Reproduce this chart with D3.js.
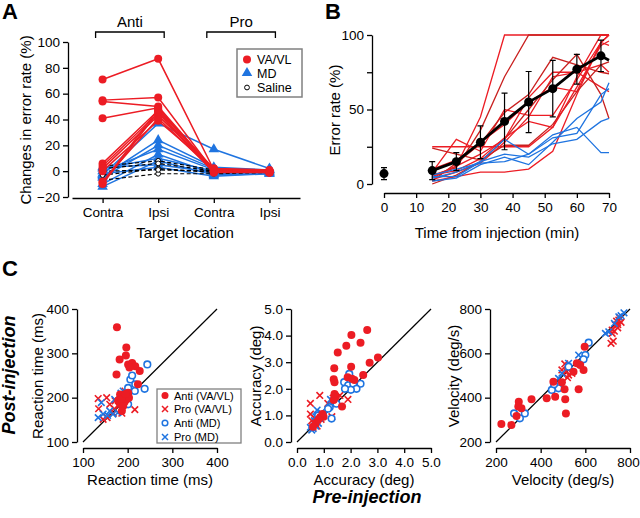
<!DOCTYPE html>
<html lang="en">
<head>
<meta charset="UTF-8">
<script src="https://d3js.org/d3.v7.min.js"></script>
<title>Error rate and saccade parameters</title>
<style>
  body { margin: 0; background: #fff; }
  svg { font-family: "Liberation Sans", Arial, sans-serif; }
  .axis path, .axis line { stroke: #000; stroke-width: 1.3px; }
  .axis text { font-size: 13.5px; fill: #000; font-family: "Liberation Sans", Arial, sans-serif; }
  .title { font-size: 15px; }
</style>
</head>
<body>
<svg id="fig" width="640" height="518"></svg>
<script>
// ---------- Panel A: change in error rate ----------
const targets = ["antiContra", "antiIpsi", "proContra", "proIpsi"];
const targetLabels = ["Contra", "Ipsi", "Contra", "Ipsi"];
const vavlChange = [
  [71, 87, 1, 0], [55, 57, 0, -1], [54, 50, 1, 0], [41, 49, 0, 0],
  [6, 47, 2, 0], [4, 45, -1, -1], [2, 43, 1, 0], [-8, 41, 0, -1],
  [-10, 46, -1, 0], [0, 39, 2, 1], [-9, 48, 0, -1]
];
const mdChange = [
  [-3, 37, 17, 2], [-4, 24, 3, 1], [-5, 20, 2, 0], [0, 17, 1, -1],
  [-10, 13, -2, -1], [2, 10, 0, 0], [-12, 8, -3, -2], [3, 5, -1, 1], [-2, 3, -4, -2]
];
const salineChange = [
  [4, 8, 1, 0], [2, 6, 0, -1], [-3, 2, -1, 0], [-7, -2, -2, -1], [0, 1, 0, 0]
];

// ---------- Panel B: error rate over time ----------
const timePoints = [15, 22.5, 30, 37.5, 45, 52.5, 60, 67.5, 70];
const vavlTime = [
  [4, 12, 45, 100, 100, 100, 100, 100, 100],
  [6, 11, 36, 72, 100, 100, 100, 100, 100],
  [25, 25, 25, 25, 25, 38, 72, 100, 100],
  [8, 30, 22, 50, 46, 46, 70, 95, 93],
  [2, 14, 27, 48, 60, 85, 80, 75, 74],
  [5, 12, 20, 30, 58, 75, 75, 80, 75],
  [3, 8, 14, 28, 45, 72, 75, 65, 62],
  [0, 6, 15, 30, 50, 70, 87, 60, 44],
  [10, 16, 28, 40, 55, 65, 62, 95, 100],
  [2, 5, 8, 8, 10, 22, 60, 95, 100],
  [24, 20, 16, 26, 26, 40, 62, 80, 82],
  [6, 9, 17, 31, 42, 38, 65, 93, 96]
];
const mdTime = [
  [5, 5, 15, 30, 20, 33, 38, 21, 21],
  [4, 8, 15, 20, 18, 27, 30, 42, 44],
  [2, 4, 13, 18, 13, 28, 44, 55, 68],
  [6, 10, 14, 15, 20, 31, 34, 60, 64]
];
const meanTime = [9, 15, 28, 42, 55, 64, 77, 86, 83];
const semTime = [6, 6, 11, 19, 20.5, 19, 10, 10.5, null];
const baseTime = 0, baseMean = 7, baseSem = 4;

// ---------- Panel C: pre vs post injection ----------
const rtAntiVA = [[176,359],[197,313],[182,286],[196,295],[201,275],[210,278],[217,271],[227,260],[204,268],[175,252],[223,230],[183,207],[190,200],[193,203],[197,196],[179,194],[193,190],[183,187],[190,181],[201,211],[203,200],[187,170],[186,197],[195,208]];
const rtProVA = [[134,198],[153,200],[135,175],[154,155],[168,165],[179,181],[216,173],[145,151],[187,165],[172,193],[190,205],[194,215],[160,185],[170,175]];
const rtAntiMD = [[244,275],[206,241],[217,230],[238,220],[216,215],[201,222],[201,185],[210,250],[195,205],[188,195]];
const rtProMD = [[134,155],[145,163],[160,170],[141,189],[167,163],[178,166],[171,196],[190,215],[185,210],[155,160]];

const accAntiVA = [[2.62,4.21],[2.03,4.02],[1.84,3.62],[2.37,3.73],[1.52,3.36],[3.02,3.18],[2.71,2.98],[2.02,2.83],[1.39,2.77],[2.47,2.52],[1.37,2.36],[1.40,2.25],[1.89,2.43],[2.14,2.33],[2.05,2.38],[1.45,1.70],[1.37,1.58],[1.68,1.33],[1.40,1.80],[0.99,0.95],[0.86,0.93],[0.95,1.05],[0.70,0.72],[0.60,0.57],[0.80,0.85]];
const accProVA = [[0.5,1.45],[0.85,1.75],[0.5,1.05],[1.3,0.95],[1.9,1.6],[1.6,1.75],[1.15,1.45],[0.6,0.55],[0.7,0.7],[0.55,0.8],[0.75,0.6],[0.65,0.9],[0.9,0.85],[0.8,1.0],[1.35,1.65]];
const accAntiMD = [[1.95,2.56],[1.76,2.25],[1.91,2.13],[2.10,2.19],[2.37,2.19],[2.22,2.0],[2.01,1.96],[1.79,2.0],[1.35,1.56],[1.22,1.31],[1.47,1.44],[1.16,1.25],[1.29,0.88],[0.79,1.0]];
const accProMD = [[0.6,0.5],[0.7,0.6],[0.55,0.45],[0.8,0.7],[0.9,1.1],[0.75,1.2],[0.65,0.8],[0.5,0.55],[1.0,1.0],[0.85,0.9],[1.25,1.6],[0.7,0.95]];

const velAntiVA = [[224,281],[269,277],[302,382],[314,352],[292,317],[359,393],[427,397],[465,404],[457,472],[510,393],[507,438],[513,329],[570,438],[562,555],[592,525],[597,630],[547,517],[577,547],[300,360],[495,470]];
const velProVA = [[720,690],[735,728],[750,750],[725,655],[715,645],[740,745],[760,740],[745,715],[730,700],[720,705],[755,760],[508,552],[525,502],[540,510],[495,525],[520,490],[515,520],[745,730]];
const velAntiMD = [[615,648],[600,592],[592,573],[480,442],[450,435],[329,329],[307,307],[281,329],[525,540],[460,460]];
const velProMD = [[773,783],[750,765],[705,697],[690,690],[570,592],[495,510],[480,487],[525,555],[760,770],[730,735]];

const red = "#ec1c24", darkRed = "#c9201f", blue = "#1f74e0";

const svg = d3.select("#fig");

// panel letters
svg.append("text").attr("x", 2).attr("y", 19).attr("font-size", 22).attr("font-weight", "bold").text("A");
svg.append("text").attr("x", 325).attr("y", 19).attr("font-size", 22).attr("font-weight", "bold").text("B");
svg.append("text").attr("x", 2).attr("y", 276).attr("font-size", 22).attr("font-weight", "bold").text("C");

/* ------------------- Panel A ------------------- */
const xA = d3.scalePoint().domain(targets).range([72, 300]).padding(0.55);
const yA = d3.scaleLinear().domain([-20, 100]).range([197, 42]);

svg.append("g").attr("class", "axis").attr("transform", "translate(68,0)")
  .call(d3.axisLeft(yA).tickValues([-20, 0, 20, 40, 60, 80, 100]).tickSize(5).tickSizeOuter(0));
svg.append("g").attr("class", "axis").attr("transform", "translate(0,198)")
  .call(d3.axisBottom(xA).tickSize(5).tickSizeOuter(0).tickFormat((d, i) => targetLabels[i]).tickPadding(4));

const lineA = d3.line().x((d, i) => xA(targets[i])).y(d => yA(d));

// MD
mdChange.forEach(row => {
  svg.append("path").attr("d", lineA(row)).attr("fill", "none").attr("stroke", blue).attr("stroke-width", 1.5);
  svg.append("g").selectAll("path").data(row).join("path")
    .attr("d", d3.symbol(d3.symbolTriangle, 48))
    .attr("transform", (d, i) => `translate(${xA(targets[i])},${yA(d)})`)
    .attr("fill", blue);
});
// Saline
salineChange.forEach(row => {
  svg.append("path").attr("d", lineA(row)).attr("fill", "none").attr("stroke", "#000")
    .attr("stroke-width", 1.2).attr("stroke-dasharray", "4,2.5");
  svg.append("g").selectAll("circle").data(row).join("circle")
    .attr("cx", (d, i) => xA(targets[i])).attr("cy", d => yA(d)).attr("r", 2.4)
    .attr("fill", "#fff").attr("stroke", "#000").attr("stroke-width", 1);
});
// VA/VL
vavlChange.forEach(row => {
  svg.append("path").attr("d", lineA(row)).attr("fill", "none").attr("stroke", red).attr("stroke-width", 1.5);
  svg.append("g").selectAll("circle").data(row).join("circle")
    .attr("cx", (d, i) => xA(targets[i])).attr("cy", d => yA(d)).attr("r", 4)
    .attr("fill", red);
});

// Anti / Pro brackets
[["Anti", 0, 1], ["Pro", 2, 3]].forEach(([lab, a, b]) => {
  const x1 = xA(targets[a]) - 7, x2 = xA(targets[b]) + 6;
  svg.append("path").attr("d", `M${x1},38V32H${x2}V38`).attr("fill", "none").attr("stroke", "#000").attr("stroke-width", 1.3);
  svg.append("text").attr("x", (x1 + x2) / 2).attr("y", 27).attr("text-anchor", "middle").attr("class", "title").text(lab);
});

svg.append("text").attr("class", "title").attr("text-anchor", "middle")
  .attr("transform", "translate(31,120) rotate(-90)").text("Changes in error rate (%)");
svg.append("text").attr("class", "title").attr("text-anchor", "middle").attr("x", 185).attr("y", 238).text("Target location");

// legend A
const legA = svg.append("g");
legA.append("rect").attr("x", 237).attr("y", 49).attr("width", 65).attr("height", 48)
  .attr("fill", "#fff").attr("stroke", "#808080").attr("stroke-width", 1.5);
legA.append("circle").attr("cx", 247).attr("cy", 59.5).attr("r", 4).attr("fill", red);
legA.append("path").attr("d", d3.symbol(d3.symbolTriangle, 48)).attr("transform", "translate(247,73)").attr("fill", blue);
legA.append("circle").attr("cx", 247).attr("cy", 87.5).attr("r", 2.4).attr("fill", "#fff").attr("stroke", "#000");
[["VA/VL", 64], ["MD", 78], ["Saline", 92]].forEach(([t, y]) =>
  legA.append("text").attr("x", 257).attr("y", y).attr("font-size", 12.5).text(t));

/* ------------------- Panel B ------------------- */
const xB = d3.scaleLinear().domain([0, 70]).range([384, 609]);
const yB = d3.scaleLinear().domain([0, 100]).range([184, 35]);

svg.append("g").attr("class", "axis").attr("transform", "translate(372,0)")
  .call(d3.axisLeft(yB).tickValues([0, 25, 50, 75, 100]).tickSize(5).tickSizeOuter(0)
    .tickFormat(d => d % 50 === 0 ? d : ""));
svg.append("g").attr("class", "axis").attr("transform", "translate(0,193)")
  .call(d3.axisBottom(xB).tickValues(d3.range(0, 71, 10)).tickSize(5).tickSizeOuter(0).tickPadding(4));

const lineB = d3.line().x((d, i) => xB(timePoints[i])).y(d => yB(d));
vavlTime.forEach((row, k) => {
  svg.append("path").attr("d", lineB(row)).attr("fill", "none")
    .attr("stroke", k % 3 === 1 ? darkRed : red).attr("stroke-width", 1.3);
});
mdTime.forEach(row => {
  svg.append("path").attr("d", lineB(row)).attr("fill", "none").attr("stroke", blue).attr("stroke-width", 1.3);
});

// mean +/- sem
const gMean = svg.append("g");
gMean.append("path").attr("d", lineB(meanTime)).attr("fill", "none").attr("stroke", "#000").attr("stroke-width", 2.8);
const errB = (x, m, s) => {
  gMean.append("path")
    .attr("d", `M${xB(x) - 3},${yB(m + s)}H${xB(x) + 3}M${xB(x)},${yB(m + s)}V${yB(m - s)}M${xB(x) - 3},${yB(m - s)}H${xB(x) + 3}`)
    .attr("stroke", "#000").attr("stroke-width", 1.2).attr("fill", "none");
  gMean.append("circle").attr("cx", xB(x)).attr("cy", yB(m)).attr("r", 4.5).attr("fill", "#000");
};
meanTime.forEach((m, i) => { if (semTime[i] !== null) errB(timePoints[i], m, semTime[i]); });
errB(baseTime, baseMean, baseSem);

svg.append("text").attr("class", "title").attr("text-anchor", "middle")
  .attr("transform", "translate(340,110) rotate(-90)").text("Error rate (%)");
svg.append("text").attr("class", "title").attr("text-anchor", "middle").attr("x", 497).attr("y", 238).text("Time from injection (min)");

/* ------------------- Panel C ------------------- */
function crossPath(s) {
  return `M${-s},${-s}L${s},${s}M${-s},${s}L${s},${-s}`;
}

function scatterPanel(o) {
  const x = d3.scaleLinear().domain(o.domain).range([o.left, o.left + 134]);
  const y = d3.scaleLinear().domain(o.domain).range([442, 309]);
  svg.append("g").attr("class", "axis").attr("transform", `translate(${o.left - 6},0)`)
    .call(d3.axisLeft(y).tickValues(o.ticks).tickSize(5).tickSizeOuter(0).tickFormat(o.fmt));
  const xAx = svg.append("g").attr("class", "axis").attr("transform", "translate(0,448)")
    .call(d3.axisBottom(x).tickValues(o.ticks).tickSize(5).tickSizeOuter(0).tickFormat(o.fmt).tickPadding(4));
  if (o.lastShift) xAx.selectAll(".tick:last-of-type text").attr("dx", o.lastShift);
  svg.append("line").attr("x1", x(o.domain[0])).attr("y1", y(o.domain[0]))
    .attr("x2", x(o.domain[1])).attr("y2", y(o.domain[1])).attr("stroke", "#000").attr("stroke-width", 1.2);

  const g = svg.append("g");
  g.selectAll(".px").data(o.proVA).join("path").attr("d", crossPath(3.3))
    .attr("transform", d => `translate(${x(d[0])},${y(d[1])})`).attr("stroke", red).attr("stroke-width", 1.6);
  g.selectAll(".pm").data(o.proMD).join("path").attr("d", crossPath(3.3))
    .attr("transform", d => `translate(${x(d[0])},${y(d[1])})`).attr("stroke", blue).attr("stroke-width", 1.6);
  g.selectAll(".am").data(o.antiMD).join("circle").attr("cx", d => x(d[0])).attr("cy", d => y(d[1]))
    .attr("r", 3.3).attr("fill", "#fff").attr("stroke", blue).attr("stroke-width", 1.6);
  g.selectAll(".av").data(o.antiVA).join("circle").attr("cx", d => x(d[0])).attr("cy", d => y(d[1]))
    .attr("r", 4).attr("fill", red);

  svg.append("text").attr("class", "title").attr("text-anchor", "middle")
    .attr("transform", `translate(${o.ylabX},376) rotate(-90)`).text(o.label);
  svg.append("text").attr("class", "title").attr("text-anchor", "middle")
    .attr("x", o.left + 67).attr("y", 485).text(o.label);
}

scatterPanel({ left: 83, domain: [100, 400], ticks: [100, 200, 300, 400], fmt: d3.format("d"),
  antiVA: rtAntiVA, proVA: rtProVA, antiMD: rtAntiMD, proMD: rtProMD, label: "Reaction time (ms)", ylabX: 43 });
scatterPanel({ left: 297, domain: [0, 5], ticks: [0, 1, 2, 3, 4, 5], fmt: d3.format(".1f"),
  antiVA: accAntiVA, proVA: accProVA, antiMD: accAntiMD, proMD: accProMD, label: "Accuracy (deg)", ylabX: 261 });
scatterPanel({ left: 496, domain: [200, 800], ticks: [200, 400, 600, 800], fmt: d3.format("d"),
  antiVA: velAntiVA, proVA: velProVA, antiMD: velAntiMD, proMD: velProMD, label: "Velocity (deg/s)", ylabX: 459,
  lastShift: -2 });

// legend C
const legC = svg.append("g");
legC.append("rect").attr("x", 157).attr("y", 389).attr("width", 84).attr("height", 54)
  .attr("fill", "#fff").attr("stroke", "#808080").attr("stroke-width", 1.3);
legC.append("circle").attr("cx", 165).attr("cy", 395.5).attr("r", 3.5).attr("fill", red);
legC.append("path").attr("d", crossPath(3)).attr("transform", "translate(165,409)").attr("stroke", red).attr("stroke-width", 1.5);
legC.append("circle").attr("cx", 165).attr("cy", 423).attr("r", 2.8).attr("fill", "#fff").attr("stroke", blue).attr("stroke-width", 1.5);
legC.append("path").attr("d", crossPath(3)).attr("transform", "translate(165,437)").attr("stroke", blue).attr("stroke-width", 1.5);
[["Anti (VA/VL)", 399.5], ["Pro (VA/VL)", 413], ["Anti (MD)", 427], ["Pro (MD)", 441]].forEach(([t, y]) =>
  legC.append("text").attr("x", 174).attr("y", y).attr("font-size", 11).text(t));

svg.append("text").attr("font-size", 18).attr("font-weight", "bold").attr("font-style", "italic")
  .attr("text-anchor", "middle").attr("transform", "translate(15,375) rotate(-90)").text("Post-injection");
svg.append("text").attr("font-size", 18).attr("font-weight", "bold").attr("font-style", "italic")
  .attr("text-anchor", "middle").attr("x", 367).attr("y", 503).text("Pre-injection");
</script>
</body>
</html>
